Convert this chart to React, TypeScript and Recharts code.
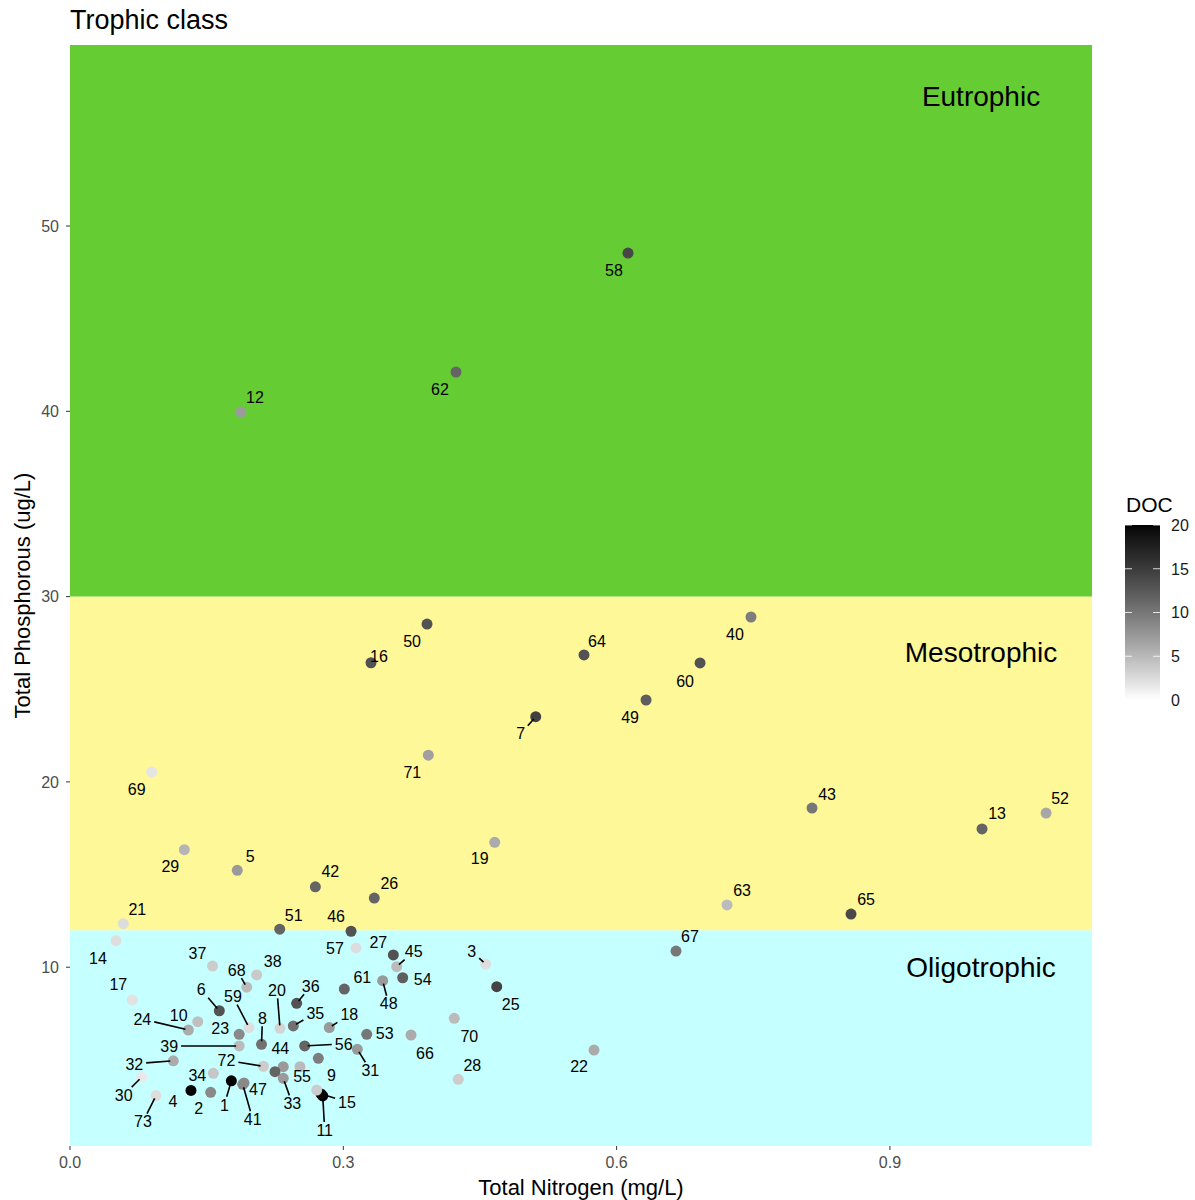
import React from 'react';
import { ScatterChart, Scatter, XAxis, YAxis, ReferenceArea } from 'recharts';

// Lake survey: total nitrogen (mg/L), total phosphorus (ug/L) and dissolved organic carbon
const lakeIds: (number | null)[] = [
  1, 2, 3, 4, 5, 6, 7, 8, 9, 10, 11, 12, 13, 14, 15, 16, 17, 18, 19, 20,
  21, 22, 23, 24, 25, 26, 27, 28, 29, 30, 31, 32, 33, 34, 35, 36, 37, 38, 39, 40,
  41, 42, 43, 44, 45, 46, 47, 48, 49, 50, 51, 52, 53, 54, 55, 56, 57, 58, 59, 60,
  61, 62, 63, 64, 65, 66, 67, 68, 69, 70, 71, 72, 73, null, null,
];

const nitrogen: number[] = [
  0.1771, 0.1544, 0.4563, 0.1328, 0.1836, 0.1639, 0.5112, 0.2102, 0.2726, 0.1402,
  0.2774, 0.1877, 1.0011, 0.0505, 0.2755, 0.3304, 0.0684, 0.2846, 0.4662, 0.2305,
  0.0585, 0.5752, 0.1857, 0.1299, 0.4684, 0.334, 0.3549, 0.4262, 0.1255, 0.0787,
  0.3154, 0.1134, 0.2341, 0.1573, 0.2451, 0.2488, 0.1564, 0.2049, 0.1857, 0.7475,
  0.1896, 0.2693, 0.8145, 0.2341, 0.3586, 0.3085, 0.191, 0.3432, 0.6323, 0.3919,
  0.2302, 1.0714, 0.3257, 0.3652, 0.2525, 0.2576, 0.3139, 0.6125, 0.1965, 0.6916,
  0.3011, 0.4237, 0.7212, 0.5642, 0.8573, 0.3743, 0.6652, 0.194, 0.0897, 0.4218,
  0.3933, 0.2124, 0.0944, 0.225, 0.2708,
];

const phosphorus: number[] = [
  3.87, 3.25, 10.16, 3.35, 15.23, 7.65, 23.52, 5.84, 5.08, 7.06,
  3.05, 39.96, 17.46, 11.43, 3.16, 26.43, 8.23, 6.74, 16.74, 6.7,
  12.35, 5.53, 6.38, 6.61, 8.95, 13.73, 10.66, 3.95, 16.34, 4.07,
  5.57, 4.95, 4.0, 4.27, 6.83, 8.05, 10.06, 9.58, 5.75, 28.9,
  3.68, 14.34, 18.59, 4.63, 10.03, 11.94, 3.75, 9.27, 24.42, 28.52,
  12.05, 18.32, 6.38, 9.43, 4.63, 5.75, 11.04, 48.54, 6.74, 26.42,
  8.82, 42.12, 13.36, 26.85, 12.87, 6.34, 10.87, 8.92, 20.53, 7.24,
  21.44, 4.65, 3.07, 4.36, 3.37,
];

const doc: number[] = [
  19.8, 8.6, 2.4, 19.8, 7.3, 13, 14.5, 10.5, 9.5, 4.5,
  20, 7.2, 11.5, 2.3, 19.5, 13, 2, 7.3, 6, 3,
  2.4, 6, 8.6, 6, 14.2, 11.5, 13, 3.6, 5.3, 1.5,
  7.3, 6, 7.3, 4, 10.5, 13, 3.6, 3.8, 4.8, 9.5,
  8.6, 11.5, 10, 7.3, 4.8, 13, 8.6, 7.3, 12, 13,
  11.5, 6.3, 10, 12, 4.8, 11.5, 2.4, 14, 2.3, 13,
  11.5, 11.5, 4.8, 13, 13.8, 6, 10, 4.8, 1.8, 4.8,
  6.8, 3.6, 2.4, 11.5, 3.6,
];

// Trophic class bands (ug/L of phosphorus)
const bandNames = ['Oligotrophic', 'Mesotrophic', 'Eutrophic'];
const bandLower = [0.35, 12, 30];
const bandUpper = [12, 30, 59.77];
const bandFills = ['#C6FFFF', '#FFF899', '#66CC33'];
const bandLabelX = [1.0, 1.0, 1.0];
const bandLabelY = [10, 27, 57];

const xTicks = [0, 0.3, 0.6, 0.9];
const yTicks = [10, 20, 30, 40, 50];
const X_DOMAIN: [number, number] = [0, 1.1218];
const Y_DOMAIN: [number, number] = [0.35, 59.77];

const docBreaks = [0, 5, 10, 15, 20];
const DOC_MIN = 0;
const DOC_MAX = 20;

// Repelled label placement: pixel offset of label centre from its point, and whether a leader is drawn
const labelPlacement: Record<number, [number, number, boolean]> = {
  1: [-7, 24, true], 2: [-12, 16, false], 3: [-14, -13, true], 4: [-18, 11, false],
  5: [13, -14, false], 6: [-18, -21, true], 7: [-15, 17, true], 8: [1, -26, true],
  9: [13, 17, false], 10: [-19, -6, false], 11: [2, 34, true], 12: [14, -15, false],
  13: [15, -16, false], 14: [-18, 18, false], 15: [26, 8, true], 16: [8, -7, false],
  17: [-14, -16, false], 18: [20, -13, true], 19: [-15, 16, false], 20: [-3, -38, true],
  21: [14, -14, false], 22: [-15, 16, false], 23: [-19, -6, false], 24: [-46, -11, true],
  25: [14, 18, false], 26: [15, -15, false], 27: [-15, -13, false], 28: [14, -14, false],
  29: [-14, 17, false], 30: [-18, 18, true], 31: [13, 21, true], 32: [-39, 3, true],
  33: [9, 25, true], 34: [-16, 2, false], 35: [22, -13, true], 36: [14, -17, true],
  37: [-15, -13, false], 38: [16, -14, false], 39: [-70, 0, true], 40: [-16, 17, false],
  41: [10, 35, true], 42: [15, -16, false], 43: [15, -14, false], 44: [-3, -18, false],
  45: [17, -15, true], 46: [-15, -15, false], 47: [14, 6, false], 48: [6, 23, true],
  49: [-16, 17, false], 50: [-15, 17, false], 51: [14, -14, false], 52: [14, -15, false],
  53: [18, -1, false], 54: [20, 1, false], 55: [2, 10, false], 56: [39, -2, true],
  57: [-21, 0, false], 58: [-14, 17, false], 59: [-16, -31, true], 60: [-15, 18, false],
  61: [18, -12, false], 62: [-16, 17, false], 63: [15, -15, false], 64: [13, -14, false],
  65: [15, -15, false], 66: [14, 18, false], 67: [14, -15, false], 68: [-10, -17, true],
  69: [-15, 17, false], 70: [15, 18, false], 71: [-16, 17, false], 72: [-37, -6, true],
  73: [-13, 26, true],
};

const FONT = '"Liberation Sans", Arial, Helvetica, sans-serif';
const LABEL_SIZE = 16;

// White-to-black gradient interpolated in CIE Lab lightness
function docGray(v: number): string {
  const t = Math.min(1, Math.max(0, (v - DOC_MIN) / (DOC_MAX - DOC_MIN)));
  const L = 100 * (1 - t);
  const Y = L > 8 ? Math.pow((L + 16) / 116, 3) : L / 903.3;
  const s = Y <= 0.0031308 ? 12.92 * Y : 1.055 * Math.pow(Y, 1 / 2.4) - 0.055;
  const g = Math.round(255 * Math.min(1, Math.max(0, s)));
  return `rgb(${g},${g},${g})`;
}

const lakes = lakeIds.map((id, i) => ({
  lake: id,
  x: nitrogen[i],
  y: phosphorus[i],
  doc: doc[i],
}));

const bandLabels = bandNames.map((name, i) => ({ name, x: bandLabelX[i], y: bandLabelY[i] }));

const PointShape = (props: any) => {
  const { cx, cy, payload } = props;
  if (cx == null || cy == null) return <g />;
  return <circle cx={cx} cy={cy} r={5.5} fill={docGray(payload.doc)} />;
};

const LabelShape = (props: any) => {
  const { cx, cy, payload } = props;
  if (cx == null || cy == null || payload.lake == null) return <g />;
  const place = labelPlacement[payload.lake];
  if (!place) return <g />;
  const [dx, dy, leader] = place;
  const text = String(payload.lake);
  const lx = cx + dx;
  const ly = cy + dy;
  let seg = null;
  if (leader) {
    const hw = (text.length * 0.556 * LABEL_SIZE) / 2 + 3;
    const hh = 8;
    const vx = cx - lx;
    const vy = cy - ly;
    const s = Math.min(vx !== 0 ? hw / Math.abs(vx) : Infinity, vy !== 0 ? hh / Math.abs(vy) : Infinity);
    const len = Math.hypot(vx, vy);
    if (s < 1 && len > 3) {
      const x1 = lx + vx * s;
      const y1 = ly + vy * s;
      const x2 = cx - (vx / len) * 3;
      const y2 = cy - (vy / len) * 3;
      seg = <line x1={x1} y1={y1} x2={x2} y2={y2} stroke="#000" strokeWidth={1.6} />;
    }
  }
  return (
    <g>
      {seg}
      <text x={lx} y={ly} dy="0.36em" textAnchor="middle" fontSize={LABEL_SIZE} fontFamily={FONT} fill="#000">
        {text}
      </text>
    </g>
  );
};

const BandLabelShape = (props: any) => {
  const { cx, cy, payload } = props;
  if (cx == null || cy == null) return <g />;
  return (
    <text x={cx} y={cy} dy="0.36em" textAnchor="middle" fontSize={28} fontFamily={FONT} fill="#000">
      {payload.name}
    </text>
  );
};

// Colour bar for DOC
const BAR_X = 1125;
const BAR_W = 35;
const BAR_TOP = 525;
const BAR_BOTTOM = 700;
const barY = (v: number) => BAR_BOTTOM - ((v - DOC_MIN) / (DOC_MAX - DOC_MIN)) * (BAR_BOTTOM - BAR_TOP);
const gradientStops = Array.from({ length: 21 }, (_, k) => k / 20);

export default function App() {
  return (
    <div style={{ position: 'absolute', left: 0, top: 0, width: 1195, height: 1200, background: '#fff' }}>
      <ScatterChart width={1195} height={1200} margin={{ top: 45, right: 103, bottom: 0, left: 0 }}>
        <XAxis
          type="number"
          dataKey="x"
          domain={X_DOMAIN}
          ticks={xTicks}
          allowDataOverflow
          tickFormatter={(v: number) => v.toFixed(1)}
          axisLine={false}
          tickLine={{ stroke: '#333333' }}
          tickSize={4}
          tickMargin={7}
          height={54}
          tick={{ fill: '#4d4d4d', fontSize: 16, fontFamily: FONT }}
        />
        <YAxis
          type="number"
          dataKey="y"
          domain={Y_DOMAIN}
          ticks={yTicks}
          allowDataOverflow
          axisLine={false}
          tickLine={{ stroke: '#333333' }}
          tickSize={4}
          tickMargin={7}
          width={70}
          tick={{ fill: '#4d4d4d', fontSize: 16, fontFamily: FONT }}
        />
        {bandNames.map((name, i) => (
          <ReferenceArea
            key={name}
            x1={X_DOMAIN[0]}
            x2={X_DOMAIN[1]}
            y1={bandLower[i]}
            y2={bandUpper[i]}
            fill={bandFills[i]}
            fillOpacity={1}
            stroke="none"
            ifOverflow="hidden"
          />
        ))}
        <Scatter data={bandLabels} shape={BandLabelShape} isAnimationActive={false} />
        <Scatter data={lakes} shape={PointShape} isAnimationActive={false} />
        <Scatter data={lakes} shape={LabelShape} isAnimationActive={false} />
      </ScatterChart>
      <svg
        width={1195}
        height={1200}
        style={{ position: 'absolute', left: 0, top: 0, pointerEvents: 'none' }}
      >
        <defs>
          <linearGradient id="docGrad" x1="0" y1="1" x2="0" y2="0">
            {gradientStops.map((f) => (
              <stop key={f} offset={f} stopColor={docGray(DOC_MIN + f * (DOC_MAX - DOC_MIN))} />
            ))}
          </linearGradient>
        </defs>
        <text x={70} y={29} fontSize={27} fontFamily={FONT} fill="#000">
          Trophic class
        </text>
        <text x={581} y={1195} textAnchor="middle" fontSize={22} fontFamily={FONT} fill="#000">
          Total Nitrogen (mg/L)
        </text>
        <text
          x={0}
          y={0}
          transform="translate(30,595.5) rotate(-90)"
          textAnchor="middle"
          fontSize={22}
          fontFamily={FONT}
          fill="#000"
        >
          Total Phosphorous (ug/L)
        </text>
        <text x={BAR_X + 1} y={512} fontSize={21} fontFamily={FONT} fill="#000">
          DOC
        </text>
        <rect x={BAR_X} y={BAR_TOP} width={BAR_W} height={BAR_BOTTOM - BAR_TOP} fill="url(#docGrad)" />
        {docBreaks.map((b) => (
          <g key={b}>
            <line x1={BAR_X} x2={BAR_X + 7} y1={barY(b)} y2={barY(b)} stroke="#fff" strokeOpacity={0.8} />
            <line x1={BAR_X + BAR_W - 7} x2={BAR_X + BAR_W} y1={barY(b)} y2={barY(b)} stroke="#fff" strokeOpacity={0.8} />
            <text x={BAR_X + BAR_W + 11} y={barY(b)} dy="0.36em" fontSize={16} fontFamily={FONT} fill="#1a1a1a">
              {b}
            </text>
          </g>
        ))}
      </svg>
    </div>
  );
}
